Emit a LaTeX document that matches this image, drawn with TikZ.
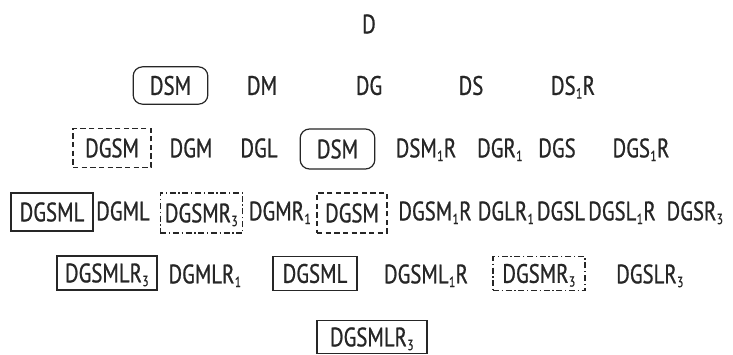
\documentclass[tikz,border=0pt]{standalone}
\usepackage{fontspec}
\setmainfont{PT Sans}
\newfontfamily\lab{PT Sans}[FakeStretch=0.78, FakeBold=0.8]
\definecolor{ink}{HTML}{262626}
\tikzset{
  lbl/.style={font=\lab\fontsize{20}{22}\selectfont, text=ink, inner sep=0pt, text height=14pt, text depth=0pt},
  bx/.style={lbl, draw=ink, line width=0.9pt},
  solidbox/.style={bx},
  dashbox/.style={bx, dash pattern=on 4pt off 2.5pt},
  dashdotbox/.style={bx, dash pattern=on 4.5pt off 2pt on 1pt off 2pt},
  roundbox/.style={bx, rounded corners=7pt},
}
\newcommand{\sbs}[1]{\kern0.3pt{\fontsize{11}{11}\selectfont\raisebox{-2.8pt}{#1}}\kern0.3pt}
\begin{document}
\begin{tikzpicture}[x=0.75pt,y=-0.75pt]
\path[use as bounding box, fill=white] (0,0) rectangle (733,354);
% row 0
\node[lbl] (d) at (369,24) {D};
% row 1
\node[roundbox, minimum width=56pt, minimum height=28pt] (r1a) at (170.5,85.5) {DSM};
\node[lbl] (r1b) at (262,85.5) {DM};
\node[lbl] (r1c) at (369,85.5) {DG};
\node[lbl] (r1d) at (471,85.5) {DS};
\node[lbl] (r1e) at (573,85.5) {DS\sbs{1}R};
% row 2
\node[dashbox, minimum width=58.5pt, minimum height=29pt] (r2a) at (112,148) {DGSM};
\node[lbl] (r2b) at (191,148) {DGM};
\node[lbl] (r2c) at (259,148) {DGL};
\node[roundbox, minimum width=56pt, minimum height=30pt] (r2d) at (337.5,149) {DSM};
\node[lbl] (r2e) at (426,148) {DSM\sbs{1}R};
\node[lbl] (r2f) at (500,148) {DGR\sbs{1}};
\node[lbl] (r2g) at (557,148) {DGS};
\node[lbl] (r2h) at (641,148) {DGS\sbs{1}R};
% row 3
\node[solidbox, minimum width=61.5pt, minimum height=28.5pt] (r3a) at (52,212) {DGSML};
\node[lbl] (r3b) at (123,211) {DGML};
\node[dashdotbox, minimum width=62pt, minimum height=30pt] (r3c) at (201.5,213) {DGSMR\sbs{3}};
\node[lbl] (r3d) at (280,211) {DGMR\sbs{1}};
\node[dashbox, minimum width=52.5pt, minimum height=30pt] (r3e) at (352,213) {DGSM};
\node[lbl] (r3f) at (435,211) {DGSM\sbs{1}R};
\node[lbl] (r3g) at (506,211) {DGLR\sbs{1}};
\node[lbl] (r3h) at (561,211) {DGSL};
\node[lbl] (r3i) at (622,211) {DGSL\sbs{1}R};
\node[lbl] (r3j) at (695,211) {DGSR\sbs{3}};
% row 4
\node[solidbox, minimum width=75pt, minimum height=25.5pt] (r4a) at (107,273) {DGSMLR\sbs{3}};
\node[lbl] (r4b) at (205,274) {DGMLR\sbs{1}};
\node[solidbox, minimum width=63pt, minimum height=25pt] (r4c) at (315,273.5) {DGSML};
\node[lbl] (r4d) at (426,274) {DGSML\sbs{1}R};
\node[dashdotbox, minimum width=69pt, minimum height=25pt] (r4e) at (539,273.5) {DGSMR\sbs{3}};
\node[lbl] (r4f) at (650,274) {DGSLR\sbs{3}};
% row 5
\node[solidbox, minimum width=82.5pt, minimum height=24.5pt] (r5a) at (372,337) {DGSMLR\sbs{3}};
\end{tikzpicture}
\end{document}
